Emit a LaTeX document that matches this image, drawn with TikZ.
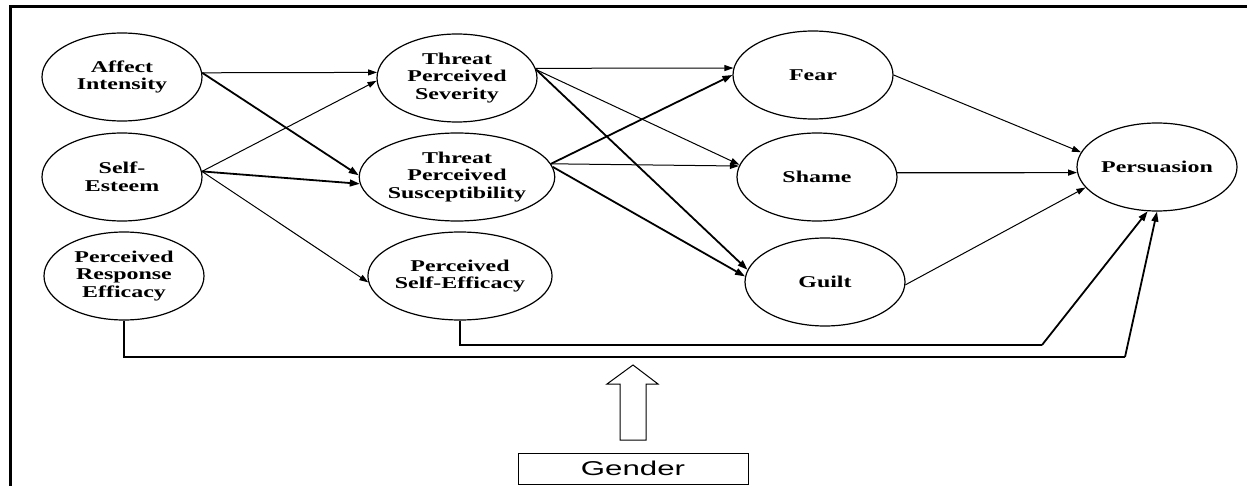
\documentclass[tikz,border=0pt]{standalone}
\usepackage{fontspec}
\usetikzlibrary{shapes.geometric,arrows.meta}
\newfontfamily\nodefont{Liberation Serif}[FakeStretch=1.45]
\newfontfamily\gfont{Liberation Sans}[FakeStretch=1.56]
\begin{document}
\begin{tikzpicture}[x=0.5pt,y=-0.5pt,
  var/.style={ellipse,draw,line width=0.6pt,minimum width=80pt,minimum height=44pt,
    inner sep=0pt,align=center,font=\nodefont\bfseries\fontsize{8.25}{8.75}\selectfont},
  weak/.style={line width=0.5pt,-{Triangle[length=4.5pt,width=3pt]}},
  strong/.style={line width=0.9pt,-{Triangle[length=5pt,width=3.4pt]}},
  link/.style={line width=0.6pt},
  gbox/.style={draw,line width=0.5pt,minimum width=115pt,minimum height=15.5pt,inner sep=0pt,
    font=\gfont\fontsize{10}{12}\selectfont}
]
\useasboundingbox (0,0) rectangle (1247,486);
\draw[line width=1.5pt] (10,486) -- (10,7) -- (1247,7);

\node[var] (ai) at (122,77) {Affect\\Intensity};
\node[var] (se) at (122,177) {Self-\\Esteem};
\node[var] (pre) at (124,276) {Perceived\\Response\\Efficacy};
\node[var] (tps) at (457,78) {Threat\\Perceived\\Severity};
\node[var] (tsu) at (457,177) {Threat\\Perceived\\Susceptibility};
\node[var] (pse) at (460,276) {Perceived\\Self-Efficacy};
\node[var] (fear) at (813,75) {Fear};
\node[var] (shame) at (817,177) {Shame};
\node[var] (guilt) at (825,282) {Guilt};
\node[var] (pers) at (1157,167) {Persuasion};

\draw[weak] (ai.3) -- (tps.176);
\draw[strong] (ai.3) -- (tsu.179);
\draw[weak] (se.4) -- (tps.182);
\draw[strong] (se.4) -- (tsu.184);
\draw[weak] (se.4) -- (pse.184);

\draw[weak] (tps.7.5) -- (fear.175);
\draw[weak] (tps.6) -- (shame.171.5);
\draw[strong] (tps.6) -- (guilt.171.6);
\draw[strong] (tsu.8.2) -- (fear.180.7);
\draw[weak] (tsu.8.2) -- (shame.172);
\draw[strong] (tsu.6.8) -- (guilt.176.5);

\draw[weak] (fear.0) -- (pers.169);
\draw[weak,line width=0.6pt] (shame.3) -- (pers.184);
\draw[weak] (guilt.358.6) -- (pers.196.3);

\coordinate (c1) at (1042,345);
\coordinate (c2) at (1125,357);
\draw[link] (pse.south) |- (c1);
\draw[strong] (c1) -- (pers.258);
\draw[link] (pre.south) |- (c2);
\draw[strong] (c2) -- (pers.south);

\draw[line width=0.5pt] (620,440) -- (620,384) -- (607,384) -- (633,365) -- (658,384)
  -- (646,384) -- (646,440) -- cycle;
\node[gbox] (gender) at (633,468.5) {Gender};
\end{tikzpicture}
\end{document}
